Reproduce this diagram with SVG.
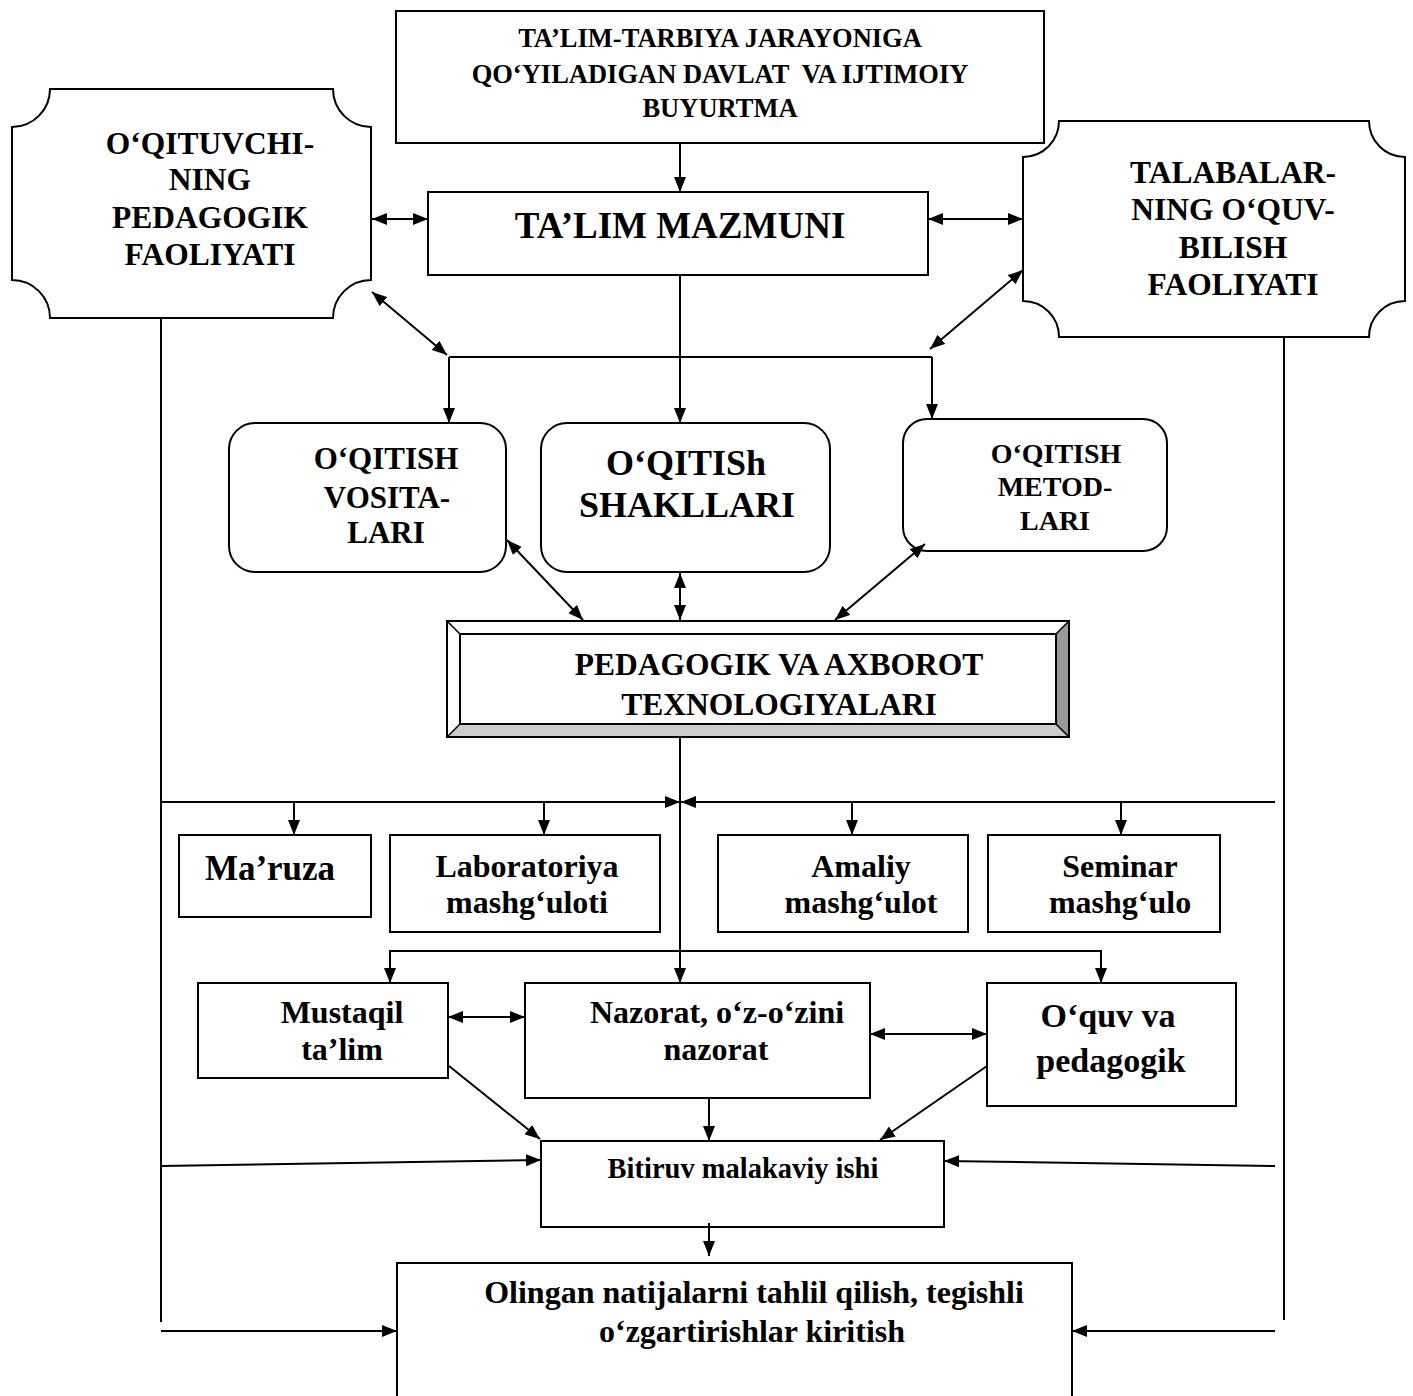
<svg xmlns="http://www.w3.org/2000/svg" width="1413" height="1396" viewBox="0 0 1413 1396">
<style>
.b{fill:#fff;stroke:#000;stroke-width:2}
.t{font-family:"Liberation Serif","Times New Roman",serif;font-weight:bold;fill:#000;text-anchor:middle}
.c{stroke:#000;stroke-width:2;fill:none}
.e{marker-end:url(#ah)}
.d{marker-start:url(#ah);marker-end:url(#ah)}
</style>
<defs>
<marker id="ah" markerUnits="userSpaceOnUse" markerWidth="15" markerHeight="12" refX="15" refY="6" orient="auto-start-reverse" viewBox="0 0 15 12">
<path d="M0,0 L15,6 L0,12 Z" fill="#000"/>
</marker>
</defs>
<rect width="1413" height="1396" fill="#fff"/>

<g id="buyurtma">
<rect class="b" x="396" y="11" width="648" height="132"/>
<text class="t" font-size="26.5" x="720" y="47">TA’LIM-TARBIYA JARAYONIGA</text>
<text class="t" font-size="26.5" x="720" y="83" xml:space="preserve">QO‘YILADIGAN DAVLAT  VA IJTIMOIY</text>
<text class="t" font-size="26.5" x="720" y="117">BUYURTMA</text>
</g>

<g id="oqituvchi">
<path class="b" d="M50,89 H333 A38,38 0 0 0 371,127 V280 A38,38 0 0 0 333,318 H50 A38,38 0 0 0 12,280 V127 A38,38 0 0 0 50,89 Z"/>
<text class="t" font-size="31.5" x="210" y="154">O‘QITUVCHI-</text>
<text class="t" font-size="31.5" x="210" y="190">NING</text>
<text class="t" font-size="31.5" x="210" y="228">PEDAGOGIK</text>
<text class="t" font-size="31.5" x="210" y="265">FAOLIYATI</text>
</g>

<g id="talabalar">
<path class="b" d="M1059,121 H1369 A36,36 0 0 0 1405,157 V301 A36,36 0 0 0 1369,337 H1059 A36,36 0 0 0 1023,301 V157 A36,36 0 0 0 1059,121 Z"/>
<text class="t" font-size="31.5" x="1233" y="183">TALABALAR-</text>
<text class="t" font-size="31.5" x="1233" y="220">NING O‘QUV-</text>
<text class="t" font-size="31.5" x="1233" y="258">BILISH</text>
<text class="t" font-size="31.5" x="1233" y="295">FAOLIYATI</text>
</g>

<g id="mazmuni">
<rect class="b" x="428" y="192" width="500" height="83"/>
<text class="t" font-size="37" x="680" y="238">TA’LIM MAZMUNI</text>
</g>

<g id="vositalari">
<rect class="b" x="229" y="423" width="277" height="149" rx="26"/>
<text class="t" font-size="31" x="386" y="469">O‘QITISH</text>
<text class="t" font-size="31" x="387" y="508">VOSITA-</text>
<text class="t" font-size="31" x="386" y="543">LARI</text>
</g>

<g id="shakllari">
<rect class="b" x="541" y="423" width="289" height="149" rx="26"/>
<text class="t" font-size="36" x="686" y="475">O‘QITISh</text>
<text class="t" font-size="36" x="687" y="517">SHAKLLARI</text>
</g>

<g id="metodlari">
<rect class="b" x="903" y="419" width="264" height="132" rx="24"/>
<text class="t" font-size="28" x="1056" y="463">O‘QITISH</text>
<text class="t" font-size="28" x="1055" y="496">METOD-</text>
<text class="t" font-size="28" x="1055" y="530">LARI</text>
</g>

<g id="texnologiyalar">
<rect x="447" y="621" width="622" height="116" fill="#fff"/>
<polygon points="1069,621 1069,737 1056,724 1056,634" fill="#999"/>
<polygon points="447,737 1069,737 1056,724 460,724" fill="#ccc"/>
<rect x="447" y="621" width="622" height="116" fill="none" stroke="#000" stroke-width="2"/>
<rect x="460" y="634" width="596" height="90" fill="none" stroke="#000" stroke-width="2"/>
<path d="M447,621 L460,634 M1069,621 L1056,634 M447,737 L460,724 M1069,737 L1056,724" stroke="#000" stroke-width="1.5"/>
<text class="t" font-size="31.5" x="779" y="675">PEDAGOGIK VA AXBOROT</text>
<text class="t" font-size="31.5" x="779" y="715">TEXNOLOGIYALARI</text>
</g>

<g id="maruza">
<rect class="b" x="179" y="835" width="192" height="82"/>
<text class="t" font-size="35" x="270" y="880">Ma’ruza</text>
</g>

<g id="laboratoriya">
<rect class="b" x="390" y="835" width="270" height="97"/>
<text class="t" font-size="32" x="527" y="877">Laboratoriya</text>
<text class="t" font-size="32" x="527" y="913">mashg‘uloti</text>
</g>

<g id="amaliy">
<rect class="b" x="718" y="835" width="250" height="97"/>
<text class="t" font-size="32" x="861" y="877">Amaliy</text>
<text class="t" font-size="32" x="861" y="913">mashg‘ulot</text>
</g>

<g id="seminar">
<rect class="b" x="988" y="835" width="232" height="97"/>
<text class="t" font-size="32" x="1120" y="877">Seminar</text>
<text class="t" font-size="32" x="1120" y="913">mashg‘ulo</text>
</g>

<g id="mustaqil">
<rect class="b" x="198" y="983" width="250" height="95"/>
<text class="t" font-size="32" x="342" y="1023">Mustaqil</text>
<text class="t" font-size="32" x="342" y="1060">ta’lim</text>
</g>

<g id="nazorat">
<rect class="b" x="525" y="983" width="345" height="115"/>
<text class="t" font-size="32" x="717" y="1023">Nazorat, o‘z-o‘zini</text>
<text class="t" font-size="32" x="716" y="1060">nazorat</text>
</g>

<g id="oquv">
<rect class="b" x="987" y="983" width="249" height="123"/>
<text class="t" font-size="34" x="1108" y="1027">O‘quv va</text>
<text class="t" font-size="34" x="1111" y="1072">pedagogik</text>
</g>

<g id="bitiruv">
<rect class="b" x="541" y="1141" width="403" height="86"/>
<text class="t" font-size="28.5" x="743" y="1178">Bitiruv malakaviy ishi</text>
</g>

<g id="natijalar">
<rect class="b" x="397" y="1263" width="675" height="150"/>
<text class="t" font-size="32" x="754" y="1303">Olingan natijalarni tahlil qilish, tegishli</text>
<text class="t" font-size="32" x="752" y="1342">o‘zgartirishlar kiritish</text>
</g>

<g id="connectors">
<line class="c e" x1="680" y1="143" x2="680" y2="192"/>
<line class="c d" x1="372" y1="219" x2="428" y2="219"/>
<line class="c d" x1="928" y1="219" x2="1023" y2="219"/>
<line class="c e" x1="680" y1="275" x2="680" y2="423"/>
<line class="c" x1="449" y1="357" x2="932" y2="357"/>
<line class="c e" x1="449" y1="357" x2="449" y2="423"/>
<line class="c e" x1="932" y1="357" x2="932" y2="419"/>
<line class="c d" x1="372" y1="292" x2="447" y2="355"/>
<line class="c d" x1="1023" y1="270" x2="930" y2="349"/>
<line class="c d" x1="507" y1="540" x2="583" y2="620"/>
<line class="c d" x1="680" y1="573" x2="680" y2="620"/>
<line class="c d" x1="925" y1="544" x2="835" y2="620"/>
<line class="c e" x1="680" y1="737" x2="680" y2="983"/>
<line class="c e" stroke-width="3" x1="161" y1="802" x2="680" y2="802"/>
<line class="c e" stroke-width="3" x1="1275" y1="802" x2="681" y2="802"/>
<line class="c" x1="161" y1="318" x2="161" y2="1322"/>
<line class="c" x1="1284" y1="337" x2="1284" y2="1320"/>
<line class="c e" x1="294" y1="802" x2="294" y2="835"/>
<line class="c e" x1="544" y1="802" x2="544" y2="835"/>
<line class="c e" x1="852" y1="802" x2="852" y2="835"/>
<line class="c e" x1="1121" y1="802" x2="1121" y2="835"/>
<path class="c e" d="M680,951 H390 V983"/>
<path class="c e" d="M680,951 H1101 V983"/>
<line class="c d" x1="448" y1="1017" x2="525" y2="1017"/>
<line class="c d" x1="870" y1="1034" x2="987" y2="1034"/>
<line class="c e" x1="449" y1="1066" x2="540" y2="1139"/>
<line class="c e" x1="709" y1="1098" x2="709" y2="1141"/>
<line class="c e" x1="987" y1="1066" x2="880" y2="1140"/>
<line class="c e" stroke-width="2.5" x1="161" y1="1166" x2="541" y2="1160"/>
<line class="c e" stroke-width="2.5" x1="1275" y1="1166" x2="944" y2="1161"/>
<line class="c e" x1="709" y1="1223" x2="709" y2="1256"/>
<line class="c e" stroke-width="2.5" x1="161" y1="1331" x2="397" y2="1331"/>
<line class="c e" stroke-width="2.5" x1="1275" y1="1331" x2="1072" y2="1331"/>
</g>
</svg>
